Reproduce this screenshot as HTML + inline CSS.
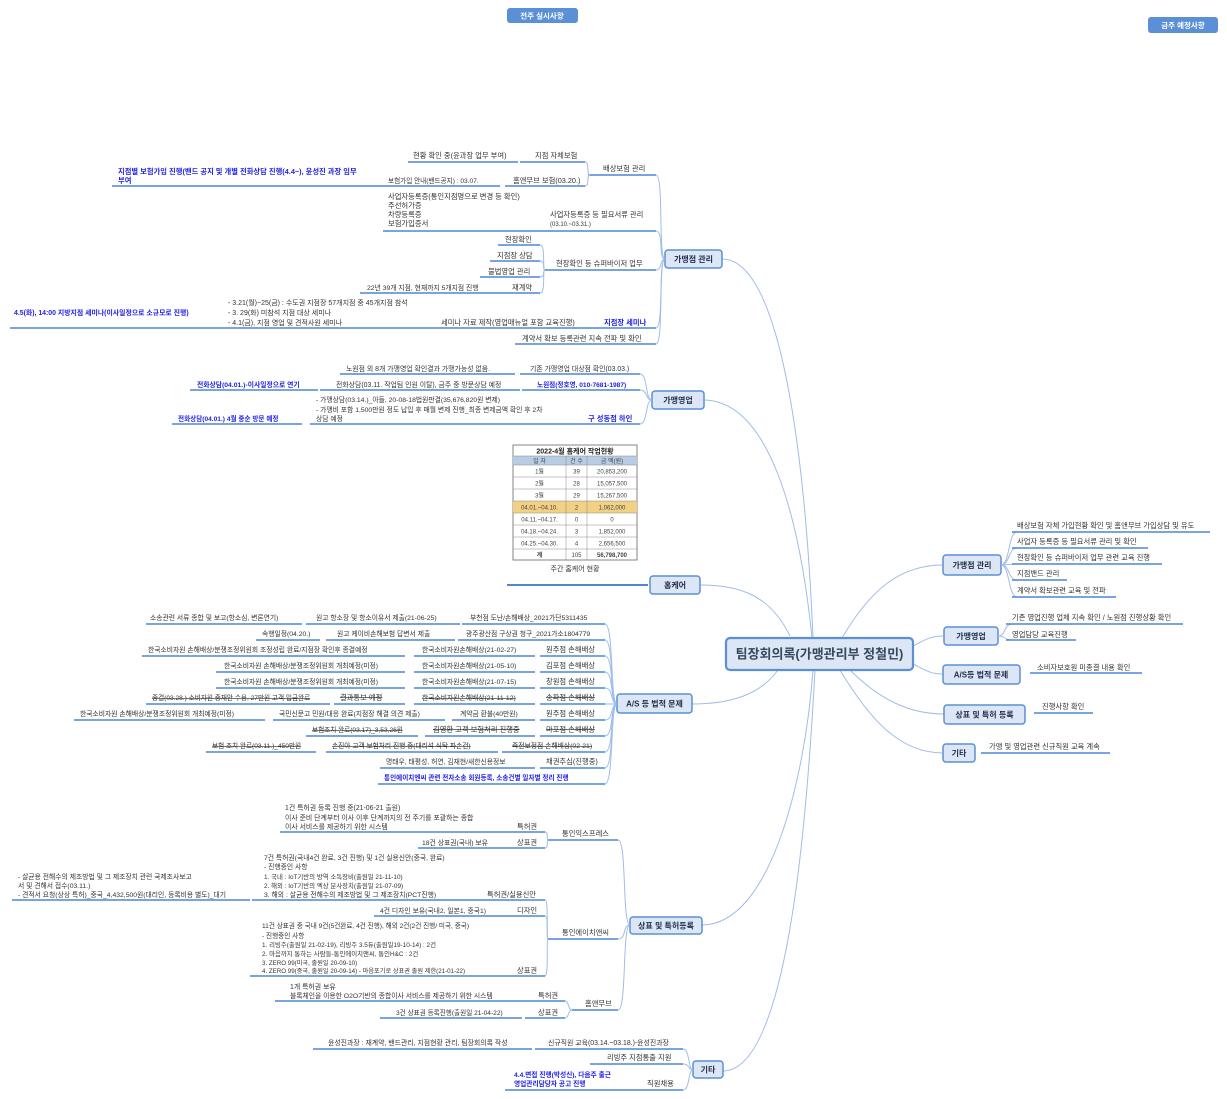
<!DOCTYPE html>
<html><head><meta charset="utf-8"><style>
html,body{margin:0;padding:0;background:#fff;}
svg{display:block;}
text{font-family:"Liberation Sans","Noto Sans CJK KR",sans-serif;font-size:7.3px;fill:#333;}
.b{fill:#1f1fe6;font-weight:bold;}
.s{text-decoration:line-through;}
.n{font-weight:bold;font-size:8px;fill:#1f2d4d;}
.u{stroke:#4f86d6;stroke-width:1.4;fill:none;}
.c{stroke:#9fbde8;stroke-width:1;fill:none;}
.bx{fill:#dce6f4;stroke:#5b8fd6;stroke-width:1.5;}
.t{font-size:6px;text-anchor:middle;fill:#444;}
</style></head><body>
<svg width="1227" height="1099" viewBox="0 0 1227 1099" xmlns="http://www.w3.org/2000/svg">
<!-- top buttons -->
<rect x="507" y="8" width="71" height="15" rx="3" fill="#5b8fd6"/>
<text x="542" y="18.5" style="fill:#fff;font-weight:bold;font-size:7.5px" text-anchor="middle">전주 실시사항</text>
<rect x="1148" y="17" width="70" height="16" rx="3" fill="#5b8fd6"/>
<text x="1183" y="28" style="fill:#fff;font-weight:bold;font-size:7.5px" text-anchor="middle">금주 예정사항</text>

<!-- center curves -->
<path class="c" d="M722 259 C780 259 805 450 813 638"/>
<path class="c" d="M703 400 C770 400 800 520 812 638"/>
<path class="c" d="M700 585 C740 585 770 595 790 636"/>
<path class="c" d="M692 704 C730 704 760 695 778 670"/>
<path class="c" d="M702 925 C770 925 805 780 813 670"/>
<path class="c" d="M723 1071 C790 1071 808 800 815 670"/>
<path class="c" d="M842 638 C870 590 900 565 943 565"/>
<path class="c" d="M913 646 C925 640 930 636 943 636"/>
<path class="c" d="M913 664 C925 670 930 674 943 674"/>
<path class="c" d="M850 670 C880 700 910 714 944 714"/>
<path class="c" d="M840 670 C870 720 900 753 943 753"/>

<!-- center node -->
<rect x="726" y="638" width="187" height="32" rx="4" class="bx" style="stroke-width:2.2"/>
<text x="819.5" y="658.5" text-anchor="middle" style="font-size:13px;font-weight:bold;fill:#34495e">팀장회의록(가맹관리부 정철민)</text>

<!-- RIGHT SIDE -->
<rect x="943" y="555" width="58" height="20" rx="3" class="bx"/><text x="972" y="568" class="n" text-anchor="middle">가맹점 관리</text>
<g>
<path class="c" d="M1001 565 C1010 565 1008 532 1017 532"/>
<path class="c" d="M1001 565 C1010 565 1008 548 1017 548"/>
<path class="c" d="M1001 565 C1010 565 1008 564 1017 564"/>
<path class="c" d="M1001 565 C1010 565 1008 580 1017 580"/>
<path class="c" d="M1001 565 C1010 565 1008 597 1017 597"/>
<line class="u" x1="1012" y1="532" x2="1210" y2="532"/><text x="1017" y="528">배상보험 자체 가입현황 확인 및 홈앤무브 가입상담 및 유도</text>
<line class="u" x1="1012" y1="548" x2="1148" y2="548"/><text x="1017" y="544">사업자 등록증 등 필요서류 관리 및 확인</text>
<line class="u" x1="1012" y1="564" x2="1162" y2="564"/><text x="1017" y="560">현장확인 등 슈퍼바이저 업무 관련 교육 진행</text>
<line class="u" x1="1012" y1="580" x2="1067" y2="580"/><text x="1017" y="576">지점밴드 관리</text>
<line class="u" x1="1012" y1="597" x2="1116" y2="597"/><text x="1017" y="593">계약서 확보관련 교육 및 전파</text>
</g>
<rect x="944" y="627" width="54" height="18" rx="3" class="bx"/><text x="971" y="639" class="n" text-anchor="middle">가맹영업</text>
<path class="c" d="M998 636 C1006 636 1004 624 1012 624"/>
<path class="c" d="M998 636 C1006 636 1004 640 1012 640"/>
<line class="u" x1="1006" y1="624" x2="1183" y2="624"/><text x="1012" y="620">기존 영업진행 업체 지속 확인 / 노원점 진행상황 확인</text>
<line class="u" x1="1006" y1="640" x2="1076" y2="640"/><text x="1012" y="637">영업담당 교육진행</text>

<rect x="943" y="665" width="77" height="19" rx="3" class="bx"/><text x="981" y="677.5" class="n" text-anchor="middle">A/S등 법적 문제</text>
<line class="u" x1="1030" y1="673" x2="1142" y2="673"/><text x="1037" y="670">소비자보호원 미종결 내용 확인</text>
<rect x="944" y="705" width="81" height="19" rx="3" class="bx"/><text x="984.5" y="717.5" class="n" text-anchor="middle">상표 및 특허 등록</text>
<line class="u" x1="1034" y1="713" x2="1093" y2="713"/><text x="1042" y="709">진행사항 확인</text>
<rect x="943" y="744" width="32" height="18" rx="3" class="bx"/><text x="959" y="756" class="n" text-anchor="middle">기타</text>
<line class="u" x1="981" y1="753" x2="1110" y2="753"/><text x="989" y="749">가맹 및 영업관련 신규직원 교육 계속</text>

<!-- LEFT: 가맹점 관리 -->
<rect x="665" y="250" width="57" height="18" rx="3" class="bx"/><text x="693.5" y="262" class="n" text-anchor="middle">가맹점 관리</text>
<path class="c" d="M656 175 C664 175 658 259 665 259"/>
<path class="c" d="M656 231 C664 231 658 259 665 259"/>
<path class="c" d="M656 270 C662 270 660 259 665 259"/>
<path class="c" d="M656 328 C664 328 658 259 665 259"/>
<path class="c" d="M656 344 C664 344 658 259 665 259"/>
<line class="u" x1="588" y1="175" x2="656" y2="175"/><text x="603" y="171">배상보험 관리</text>
<path class="c" d="M585 162 C590 162 586 175 590 175"/><path class="c" d="M585 186 C590 186 586 175 590 175"/>
<line class="u" x1="520" y1="162" x2="585" y2="162"/><text x="535" y="158">지점 자체보험</text>
<line class="u" x1="408" y1="162" x2="518" y2="162"/><text x="413" y="158">현황 확인 중(윤과장 업무 부여)</text>
<line class="u" x1="505" y1="186" x2="585" y2="186"/><text x="513" y="183">홈앤무브 보험(03.20.)</text>
<line class="u" x1="372" y1="186" x2="500" y2="186"/><text x="388" y="183" style="font-size:6.6px">보험가입 안내(밴드공지) : 03.07.</text>
<line class="u" x1="112" y1="186" x2="372" y2="186"/><text x="118" y="174" class="b">지점별 보험가입 진행(밴드 공지 및 개별 전화상담 진행(4.4~), 윤성진 과장 임무</text><text x="118" y="183" class="b">부여</text>
<line class="u" x1="540" y1="231" x2="656" y2="231"/><text x="550" y="217">사업자등록증 등 필요서류 관리</text><text x="550" y="226" style="font-size:6px">(03.10.~03.31.)</text>
<line class="u" x1="383" y1="231" x2="540" y2="231"/>
<text x="388" y="199">사업자등록증(통인지점명으로 변경 등 확인)</text><text x="388" y="208">주선허가증</text><text x="388" y="217">차량등록증</text><text x="388" y="226">보험가입증서</text>
<line class="u" x1="545" y1="270" x2="656" y2="270"/><text x="556" y="266">현장확인 등 슈퍼바이저 업무</text>
<path class="c" d="M540 245 C546 245 542 270 545 270"/><path class="c" d="M540 261 C546 261 542 270 545 270"/><path class="c" d="M540 277 C546 277 542 270 545 270"/><path class="c" d="M540 293 C546 293 542 270 545 270"/>
<line class="u" x1="498" y1="245" x2="540" y2="245"/><text x="505" y="242">현장확인</text>
<line class="u" x1="490" y1="261" x2="540" y2="261"/><text x="497" y="258">지점장 상담</text>
<line class="u" x1="480" y1="277" x2="540" y2="277"/><text x="488" y="274">불법영업 관리</text>
<line class="u" x1="495" y1="293" x2="540" y2="293"/><text x="512" y="290">재계약</text>
<line class="u" x1="360" y1="293" x2="495" y2="293"/><text x="367" y="290" style="font-size:6.8px">22년 39개 지점, 현재까지 5개지점 진행</text>
<line class="u" x1="588" y1="328" x2="656" y2="328"/><text x="604" y="325" class="b">지점장 세미나</text>
<line class="u" x1="433" y1="328" x2="588" y2="328"/><text x="441" y="325">세미나 자료 제작(영업매뉴얼 포함 교육진행)</text>
<line class="u" x1="212" y1="328" x2="433" y2="328"/>
<text x="228" y="305" style="font-size:7px">- 3.21(월)~25(금) : 수도권 지점장 57개지점 중 45개지점 참석</text>
<text x="228" y="315" style="font-size:7px">- 3. 29(화) 미참석 지점 대상 세미나</text>
<text x="228" y="325" style="font-size:7px">- 4.1(금), 지점 영업 및 견적사원 세미나</text>
<line class="u" x1="10" y1="328" x2="212" y2="328"/><text x="14" y="315" class="b" style="font-size:6.9px">4.5(화), 14:00 지방지점 세미나(이사일정으로 소규모로 진행)</text>
<line class="u" x1="515" y1="344" x2="656" y2="344"/><text x="522" y="341">계약서 확보 등록관련 지속 전파 및 확인</text>

<!-- LEFT: 가맹영업 -->
<rect x="652" y="391" width="52" height="18" rx="3" class="bx"/><text x="678" y="403" class="n" text-anchor="middle">가맹영업</text>
<path class="c" d="M640 374 C648 374 645 400 652 400"/><path class="c" d="M640 390 C648 390 645 400 652 400"/><path class="c" d="M640 424 C648 424 645 400 652 400"/>
<line class="u" x1="520" y1="374" x2="640" y2="374"/><text x="530" y="371" style="font-size:6.9px">기존 가맹영업 대상점 확인(03.03.)</text>
<line class="u" x1="340" y1="374" x2="515" y2="374"/><text x="346" y="371" style="font-size:6.9px">노원점 외 8개 가맹영업 확인결과 가맹가능성 없음.</text>
<line class="u" x1="522" y1="390" x2="640" y2="390"/><text x="537" y="387" class="b" style="font-size:6.6px">노원점(정호영, 010-7681-1987)</text>
<line class="u" x1="320" y1="390" x2="520" y2="390"/><text x="336" y="387" style="font-size:6.9px">전화상담(03.11. 작업팀 인원 이탈), 금주 중 방문상담 예정</text>
<line class="u" x1="190" y1="390" x2="318" y2="390"/><text x="197" y="387" class="b" style="font-size:6.8px">전화상담(04.01.)-이사일정으로 연기</text>
<line class="u" x1="572" y1="424" x2="640" y2="424"/><text x="588" y="421" class="b">구 성동점 하인</text>
<line class="u" x1="310" y1="424" x2="572" y2="424"/>
<text x="316" y="402" style="font-size:6.8px">- 가맹상담(03.14.)_아들, 20-08-18법원판결(35,676,820원 변제)</text>
<text x="316" y="412" style="font-size:6.8px">- 가맹비 포함 1,500만원 정도 납입 후 매월 변제 진행_최종 변제금액 확인 후 2차</text>
<text x="316" y="421" style="font-size:6.8px">상담 예정</text>
<line class="u" x1="172" y1="424" x2="302" y2="424"/><text x="178" y="421" class="b" style="font-size:6.6px">전화상담(04.01.) 4월 중순 방문 예정</text>

<!-- 홈케어 table -->
<rect x="513" y="445" width="124" height="115" fill="#fff" stroke="#666" stroke-width="0.8"/>
<text x="575" y="453.5" text-anchor="middle" style="font-size:7px;font-weight:bold;fill:#222">2022-4월 홈케어 작업현황</text>
<rect x="513" y="456" width="124" height="9" fill="#b8cce4"/>
<text class="t" x="539.5" y="463">일 자</text><text class="t" x="576.5" y="463">건 수</text><text class="t" x="612" y="463">금 액(원)</text>
<rect x="513" y="501" width="124" height="12" fill="#f2d184"/>
<g stroke="#888" stroke-width="0.5">
<line x1="513" y1="456" x2="637" y2="456"/><line x1="513" y1="465" x2="637" y2="465"/>
<line x1="513" y1="477" x2="637" y2="477"/><line x1="513" y1="489" x2="637" y2="489"/>
<line x1="513" y1="501" x2="637" y2="501"/><line x1="513" y1="513" x2="637" y2="513"/>
<line x1="513" y1="525" x2="637" y2="525"/><line x1="513" y1="537" x2="637" y2="537"/>
<line x1="513" y1="549" x2="637" y2="549"/>
<line x1="566" y1="456" x2="566" y2="560"/><line x1="587" y1="456" x2="587" y2="560"/>
</g>
<text class="t" x="539.5" y="473.5">1월</text><text class="t" x="576.5" y="473.5">39</text><text class="t" x="612" y="473.5">20,853,200</text>
<text class="t" x="539.5" y="485.5">2월</text><text class="t" x="576.5" y="485.5">28</text><text class="t" x="612" y="485.5">15,057,500</text>
<text class="t" x="539.5" y="497.5">3월</text><text class="t" x="576.5" y="497.5">29</text><text class="t" x="612" y="497.5">15,267,500</text>
<text class="t" x="539.5" y="509.5">04.01.~04.10.</text><text class="t" x="576.5" y="509.5">2</text><text class="t" x="612" y="509.5">1,062,000</text>
<text class="t" x="539.5" y="521.5">04.11.~04.17.</text><text class="t" x="576.5" y="521.5">0</text><text class="t" x="612" y="521.5">0</text>
<text class="t" x="539.5" y="533.5">04.18.~04.24.</text><text class="t" x="576.5" y="533.5">3</text><text class="t" x="612" y="533.5">1,852,000</text>
<text class="t" x="539.5" y="545.5">04.25.~04.30.</text><text class="t" x="576.5" y="545.5">4</text><text class="t" x="612" y="545.5">2,656,500</text>
<text class="t" x="539.5" y="557" style="font-weight:bold">계</text><text class="t" x="576.5" y="557">105</text><text class="t" x="612" y="557" style="font-weight:bold">56,798,700</text>
<text x="575" y="571" text-anchor="middle" style="font-size:7px">주간 홈케어 현황</text>
<line x1="507" y1="585" x2="648" y2="585" stroke="#4f86d6" stroke-width="2"/>
<rect x="650" y="576" width="50" height="18" rx="3" class="bx"/><text x="675" y="588" class="n" text-anchor="middle">홈케어</text>

<!-- LEFT: A/S -->
<rect x="617" y="694" width="75" height="19" rx="3" class="bx"/><text x="654.5" y="706.5" class="n" text-anchor="middle">A/S 등 법적 문제</text>
<g>
<path class="c" d="M605 624 C614 624 610 704 617 704"/><path class="c" d="M605 640 C614 640 610 704 617 704"/>
<path class="c" d="M605 656 C614 656 610 704 617 704"/><path class="c" d="M605 672 C614 672 610 704 617 704"/>
<path class="c" d="M605 688 C614 688 610 704 617 704"/><path class="c" d="M605 704 C614 704 610 704 617 704"/>
<path class="c" d="M605 720 C614 720 610 704 617 704"/><path class="c" d="M605 736 C614 736 610 704 617 704"/>
<path class="c" d="M605 752 C614 752 610 704 617 704"/><path class="c" d="M605 768 C614 768 610 704 617 704"/>
<path class="c" d="M605 784 C614 784 610 704 617 704"/>
</g>
<g style="font-size:6.9px">
<line class="u" x1="462" y1="624" x2="605" y2="624"/><text x="470" y="620" style="font-size:6.8px">부천점 도난/손해배상_2021가단5311435</text>
<line class="u" x1="306" y1="624" x2="460" y2="624"/><text x="316" y="620" style="font-size:6.8px">원고 항소장 및 항소이유서 제출(21-06-25)</text>
<line class="u" x1="146" y1="624" x2="302" y2="624"/><text x="150" y="620" style="font-size:6.8px">소송관련 서류 종합 및 보고(항소심, 변론연기)</text>
<line class="u" x1="458" y1="640" x2="605" y2="640"/><text x="466" y="636" style="font-size:6.8px">광주광산점 구상권 청구_2021가소1804779</text>
<line class="u" x1="326" y1="640" x2="455" y2="640"/><text x="337" y="636" style="font-size:6.8px">원고 케이비손해보험 답변서 제출</text>
<line class="u" x1="256" y1="640" x2="320" y2="640"/><text x="262" y="636" style="font-size:6.8px">속행일정(04.20.)</text>
<line class="u" x1="540" y1="656" x2="605" y2="656"/><text x="546" y="652">원주점 손해배상</text>
<line class="u" x1="414" y1="656" x2="535" y2="656"/><text x="422" y="652" style="font-size:6.8px">한국소비자원손해배상(21-02-27)</text>
<line class="u" x1="142" y1="656" x2="405" y2="656"/><text x="148" y="652" style="font-size:6.8px">한국소비자원 손해배상/분쟁조정위원회 조정성립 완료/지점장 확인후 종결예정</text>
<line class="u" x1="540" y1="672" x2="605" y2="672"/><text x="546" y="668">김포점 손해배상</text>
<line class="u" x1="414" y1="672" x2="535" y2="672"/><text x="422" y="668" style="font-size:6.8px">한국소비자원손해배상(21-05-10)</text>
<line class="u" x1="216" y1="672" x2="405" y2="672"/><text x="224" y="668" style="font-size:6.8px">한국소비자원 손해배상/분쟁조정위원회 개최예정(미정)</text>
<line class="u" x1="540" y1="688" x2="605" y2="688"/><text x="546" y="684">창원점 손해배상</text>
<line class="u" x1="414" y1="688" x2="535" y2="688"/><text x="422" y="684" style="font-size:6.8px">한국소비자원손해배상(21-07-15)</text>
<line class="u" x1="216" y1="688" x2="405" y2="688"/><text x="224" y="684" style="font-size:6.8px">한국소비자원 손해배상/분쟁조정위원회 개최예정(미정)</text>
<line class="u" x1="540" y1="704" x2="605" y2="704"/><text x="546" y="700" class="s">송파점 손해배상</text>
<line class="u" x1="414" y1="704" x2="535" y2="704"/><text x="422" y="700" class="s" style="font-size:6.8px">한국소비자원손해배상(21-11-12)</text>
<line class="u" x1="334" y1="704" x2="405" y2="704"/><text x="340" y="700" class="s">결과통보 예정</text>
<line class="u" x1="146" y1="704" x2="330" y2="704"/><text x="152" y="700" class="s" style="font-size:6.6px">종결(03.28.) 소비자원 중재안 수용, 27만원 고객 입금완료</text>
<line class="u" x1="540" y1="720" x2="605" y2="720"/><text x="546" y="716">원주점 손해배상</text>
<line class="u" x1="452" y1="720" x2="535" y2="720"/><text x="460" y="716" style="font-size:6.8px">계약금 환불(40만원)</text>
<line class="u" x1="273" y1="720" x2="445" y2="720"/><text x="279" y="716" style="font-size:6.8px">국민신문고 민원/대응 완료(지점장 해결 의견 제출)</text>
<line class="u" x1="74" y1="720" x2="265" y2="720"/><text x="80" y="716" style="font-size:6.8px">한국소비자원 손해배상/분쟁조정위원회 개최예정(미정)</text>
<line class="u" x1="540" y1="736" x2="605" y2="736"/><text x="546" y="732" class="s">마포점 손해배상</text>
<line class="u" x1="425" y1="736" x2="535" y2="736"/><text x="433" y="732" class="s">김영환 고객 보험처리 진행중</text>
<line class="u" x1="306" y1="736" x2="418" y2="736"/><text x="312" y="732" class="s" style="font-size:6.6px">보험조치 완료(03.17)_3,53,26원</text>
<line class="u" x1="502" y1="752" x2="605" y2="752"/><text x="512" y="748" class="s" style="font-size:6.8px">죽전보정점 손해배상(02-21)</text>
<line class="u" x1="326" y1="752" x2="498" y2="752"/><text x="332" y="748" class="s" style="font-size:6.7px">손진아 고객 보험처리 진행 중(대리석 식탁 파손건)</text>
<line class="u" x1="206" y1="752" x2="316" y2="752"/><text x="212" y="748" class="s" style="font-size:6.6px">보험 조치 완료(03.11.)_450만원</text>
<line class="u" x1="540" y1="768" x2="605" y2="768"/><text x="546" y="764">채권추심(진행중)</text>
<line class="u" x1="380" y1="768" x2="535" y2="768"/><text x="386" y="764" style="font-size:6.8px">명태우, 태평성, 허연, 김재현/새한신용정보</text>
<line class="u" x1="378" y1="784" x2="605" y2="784"/><text x="384" y="780" class="b" style="font-size:6.6px">통인에이치엔씨 관련 전자소송 회원등록, 소송건별 일자별 정리 진행</text>
</g>

<!-- LEFT: 상표 및 특허등록 -->
<rect x="630" y="917" width="72" height="17" rx="3" class="bx"/><text x="666" y="928.5" class="n" text-anchor="middle">상표 및 특허등록</text>
<path class="c" d="M618 840 C627 840 622 925 630 925"/><path class="c" d="M618 939 C627 939 622 925 630 925"/><path class="c" d="M618 1010 C627 1010 622 925 630 925"/>
<line class="u" x1="548" y1="840" x2="618" y2="840"/><text x="562" y="836">통인익스프레스</text>
<path class="c" d="M545 832 C549 832 546 840 548 840"/><path class="c" d="M545 848 C549 848 546 840 548 840"/>
<line class="u" x1="500" y1="832" x2="545" y2="832"/><text x="517" y="829">특허권</text>
<line class="u" x1="280" y1="832" x2="500" y2="832"/>
<text x="285" y="810" style="font-size:6.9px">1건 특허권 등록 진행 중(21-06-21 출원)</text>
<text x="285" y="820" style="font-size:6.9px">이사 준비 단계부터 이사 이후 단계까지의 전 주기를 포괄하는 종합</text>
<text x="285" y="829" style="font-size:6.9px">이사 서비스를 제공하기 위한 시스템</text>
<line class="u" x1="500" y1="848" x2="545" y2="848"/><text x="517" y="845">상표권</text>
<line class="u" x1="418" y1="848" x2="500" y2="848"/><text x="422" y="845" style="font-size:6.8px">18건 상표권(국내) 보유</text>
<line class="u" x1="548" y1="939" x2="618" y2="939"/><text x="562" y="935">통인에이치앤씨</text>
<path class="c" d="M545 900 C549 900 546 939 548 939"/><path class="c" d="M545 916 C549 916 546 939 548 939"/><path class="c" d="M545 976 C549 976 546 939 548 939"/>
<line class="u" x1="480" y1="900" x2="545" y2="900"/><text x="487" y="897">특허권/실용신안</text>
<line class="u" x1="252" y1="900" x2="480" y2="900"/>
<g style="font-size:6.6px">
<text x="264" y="860" style="font-size:6.8px">7건 특허권(국내4건 완료, 3건 진행) 및 1건 실용신안(중국, 완료)</text>
<text x="264" y="869" style="font-size:6.8px">- 진행중인 사항</text>
<text x="264" y="879" style="font-size:6.4px">1. 국내 : IoT기반의 방역 소독장비(출원일 21-11-10)</text>
<text x="264" y="888" style="font-size:6.4px">2. 해외 : IoT기반의 엑상 분사장치(출원일 21-07-09)</text>
<text x="264" y="897" style="font-size:6.8px">3. 해외 : 살균용 전해수의 제조방법 및 그 제조장치(PCT진행)</text>
</g>
<line class="u" x1="12" y1="900" x2="250" y2="900"/>
<text x="18" y="879" style="font-size:6.8px">- 살균용 전해수의 제조방법 및 그 제조장치 관련 국제조사보고</text>
<text x="18" y="888" style="font-size:6.8px">서 및 견해서 접수(03.11.)</text>
<text x="18" y="897" style="font-size:6.8px">- 견적서 요청(상상 특허)_중국_4,432,500원(대리인, 등록비용 별도)_대기</text>
<line class="u" x1="500" y1="916" x2="545" y2="916"/><text x="517" y="913">디자인</text>
<line class="u" x1="374" y1="916" x2="500" y2="916"/><text x="380" y="913" style="font-size:6.8px">4건 디자인 보유(국내2, 일본1, 중국1)</text>
<line class="u" x1="500" y1="976" x2="545" y2="976"/><text x="517" y="973">상표권</text>
<line class="u" x1="250" y1="976" x2="500" y2="976"/>
<text x="262" y="928" style="font-size:6.6px">11건 상표권 중 국내 9건(5건완료, 4건 진행), 해외 2건(2건 진행/ 미국, 중국)</text>
<text x="262" y="938" style="font-size:6.6px">- 진행중인 사항</text>
<text x="262" y="947" style="font-size:6.4px">1. 리빙주(출원일 21-02-19), 리빙주 3.5듀(출원일19-10-14) : 2건</text>
<text x="262" y="956" style="font-size:6.4px">2. 마음까지 통하는 사람들-통인에이치앤씨, 통인H&amp;C : 2건</text>
<text x="262" y="965" style="font-size:6.2px">3. ZERO 99(미국, 출원일 20-09-10)</text>
<text x="262" y="973" style="font-size:6.2px">4. ZERO 99(중국, 출원일 20-09-14) - 마음포기로 상표권 출원 제한(21-01-22)</text>
<line class="u" x1="572" y1="1010" x2="618" y2="1010"/><text x="585" y="1006">홈앤무브</text>
<path class="c" d="M565 1001 C569 1001 568 1010 572 1010"/><path class="c" d="M565 1018 C569 1018 568 1010 572 1010"/>
<line class="u" x1="525" y1="1001" x2="565" y2="1001"/><text x="538" y="998">특허권</text>
<line class="u" x1="275" y1="1001" x2="525" y2="1001"/>
<text x="290" y="989" style="font-size:6.9px">1개 특허권 보유</text>
<text x="290" y="998" style="font-size:6.8px">블록체인을 이용한 O2O기반의 종합이사 서비스를 제공하기 위한 시스템</text>
<line class="u" x1="525" y1="1018" x2="565" y2="1018"/><text x="538" y="1015">상표권</text>
<line class="u" x1="380" y1="1018" x2="522" y2="1018"/><text x="396" y="1015" style="font-size:6.6px">3건 상표권 등록진행(출원일 21-04-22)</text>

<!-- LEFT: 기타 -->
<rect x="693" y="1061" width="30" height="17" rx="3" class="bx"/><text x="708" y="1072.5" class="n" text-anchor="middle">기타</text>
<path class="c" d="M683 1049 C690 1049 688 1070 693 1070"/><path class="c" d="M683 1064 C690 1064 688 1070 693 1070"/><path class="c" d="M683 1090 C690 1090 688 1070 693 1070"/>
<line class="u" x1="535" y1="1049" x2="683" y2="1049"/><text x="548" y="1045" style="font-size:6.9px">신규직원 교육(03.14.~03.18.)-윤성진과장</text>
<line class="u" x1="313" y1="1049" x2="532" y2="1049"/><text x="328" y="1045" style="font-size:6.9px">윤성진과장 : 재계약, 밴드관리, 지점현황 관리, 팀장회의록 작성</text>
<line class="u" x1="590" y1="1064" x2="683" y2="1064"/><text x="607" y="1060">리빙주 지점통출 지원</text>
<line class="u" x1="630" y1="1090" x2="683" y2="1090"/><text x="647" y="1086">직원채용</text>
<line class="u" x1="505" y1="1090" x2="630" y2="1090"/><text x="514" y="1077" class="b" style="font-size:6.7px">4.4.면접 진행(박성신), 다음주 출근</text><text x="514" y="1086" class="b" style="font-size:6.7px">영업관리담당자 공고 진행</text>
</svg>
</body></html>
